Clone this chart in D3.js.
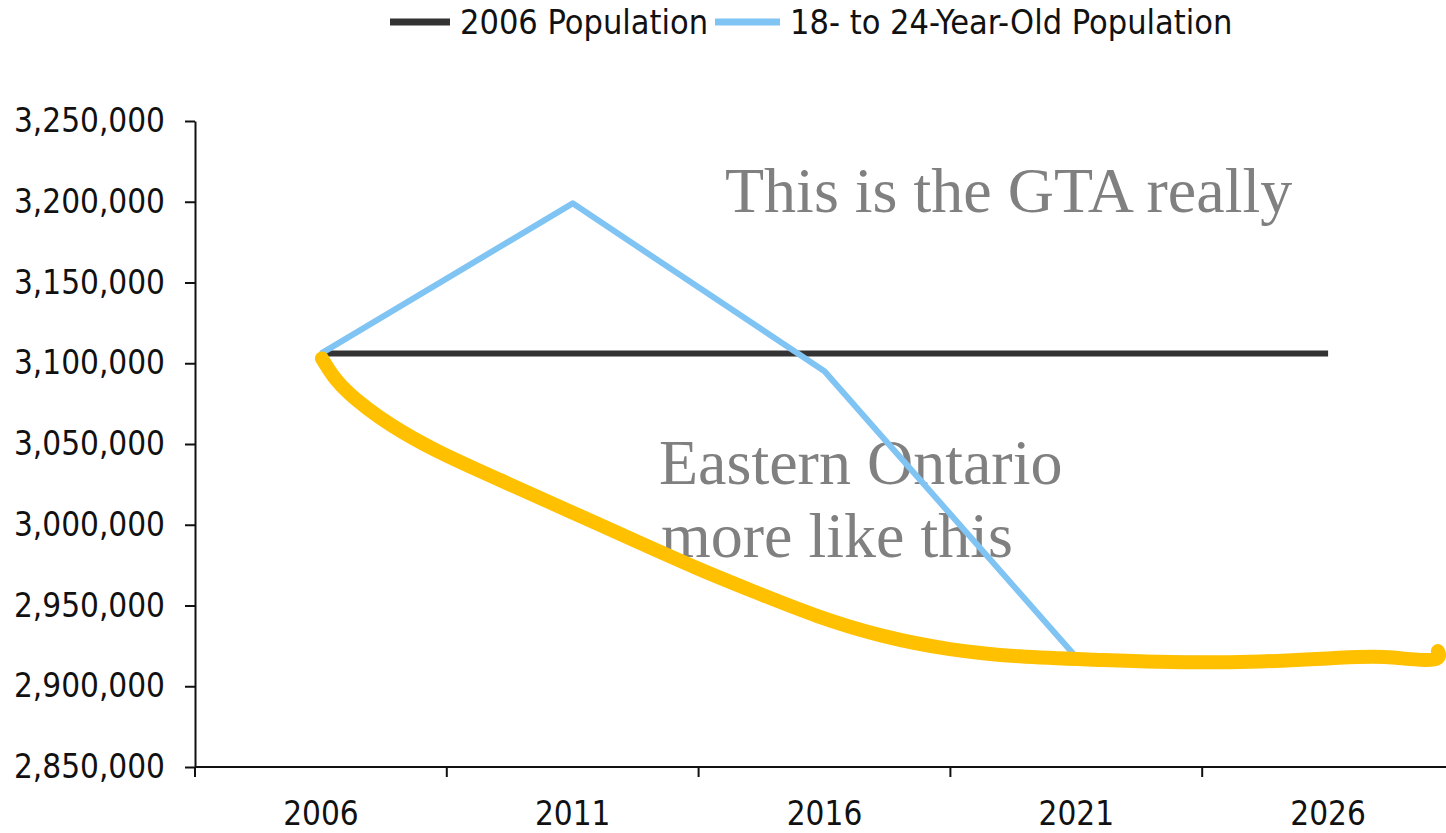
<!DOCTYPE html>
<html>
<head>
<meta charset="utf-8">
<script src="https://cdn.jsdelivr.net/npm/d3@7/dist/d3.min.js"></script>
<style>
  html, body { margin: 0; padding: 0; background: #fff; }
  svg { display: block; }
  .axis text { font-family: "DejaVu Sans Condensed", "DejaVu Sans", sans-serif; font-stretch: condensed; font-size: 33px; fill: #111; }
  .axis path, .axis line { stroke: #111; stroke-width: 2; }
  .legend text { font-family: "DejaVu Sans Condensed", "DejaVu Sans", sans-serif; font-stretch: condensed; font-size: 34px; fill: #111; }
  .note { font-family: "Liberation Serif", "Times New Roman", serif; font-size: 64px; fill: #808080; }
</style>
</head>
<body>
<svg id="chart" width="1446" height="833"></svg>
<script>
// Census years shown on the category axis
const years = ["2006", "2011", "2016", "2021", "2026"];

// Flat reference: the 2006 population
const basePopulation = [3106000, 3106000, 3106000, 3106000, 3106000];

// Projected 18- to 24-year-old population
const youthPopulation = [3106000, 3199000, 3095000, 2918000, 2916000];

// Hand-drawn Eastern Ontario trend: [year, population]
const easternYears = [2006.02, 2006.24, 2006.58, 2006.91, 2007.31, 2008.22, 2009.56, 2010.89, 2012.20,
                      2013.53, 2014.52, 2015.85, 2017.16, 2018.49, 2019.82, 2021.47, 2022.46,
                      2024.45, 2026.44, 2027.09, 2027.93, 2028.24, 2028.18];
const easternValues = [3103000, 3091500, 3080300, 3072300, 3063000, 3046300, 3027700, 3009100, 2990600,
                       2972000, 2959600, 2942900, 2930500, 2922400, 2918100, 2916300, 2915000,
                       2914400, 2918100, 2918700, 2915600, 2916900, 2921800];

// Value axis ticks
const yTicks = [2850000, 2900000, 2950000, 3000000, 3050000, 3100000, 3150000, 3200000, 3250000];

const legendItems = [
  { label: "2006 Population", color: "#333333" },
  { label: "18- to 24-Year-Old Population", color: "#80c4f4" }
];

const svg = d3.select("#chart");

const plotLeft = 195, plotRight = 1454, plotTop = 121, plotBottom = 767;

const x = d3.scaleBand().domain(years).range([plotLeft, plotRight]).padding(0);
const y = d3.scaleLinear().domain([2850000, 3250000]).range([plotBottom, plotTop]);

// Continuous year scale aligned with the band centres
const xc = d3.scaleLinear()
  .domain([2006, 2026])
  .range([x("2006") + x.bandwidth() / 2, x("2026") + x.bandwidth() / 2]);

// Y axis
svg.append("g")
  .attr("class", "axis")
  .attr("transform", `translate(${plotLeft},0)`)
  .call(d3.axisLeft(y).tickValues(yTicks).tickFormat(d3.format(",")).tickSize(10).tickPadding(20).tickSizeOuter(0));

// X axis: labels centred in bands, ticks on band boundaries
const xAxis = svg.append("g")
  .attr("class", "axis")
  .attr("transform", `translate(0,${plotBottom})`)
  .call(d3.axisBottom(x).tickSize(0).tickPadding(35).tickSizeOuter(0));
xAxis.select(".domain").attr("d", `M${plotLeft},0H${plotRight}`);
xAxis.selectAll(".boundary")
  .data(years)
  .enter().append("line")
  .attr("class", "boundary")
  .attr("x1", d => x(d)).attr("x2", d => x(d))
  .attr("y1", 0).attr("y2", 10);

// Annotations
svg.append("text").attr("class", "note").attr("x", 725).attr("y", 212).text("This is the GTA really");
svg.append("text").attr("class", "note").attr("x", 659).attr("y", 484).text("Eastern Ontario");
svg.append("text").attr("class", "note").attr("x", 661).attr("y", 557).text("more like this");

const lineCat = d3.line()
  .x((d, i) => x(years[i]) + x.bandwidth() / 2)
  .y(d => y(d));

// 2006 Population
svg.append("path")
  .datum(basePopulation)
  .attr("d", lineCat)
  .attr("fill", "none")
  .attr("stroke", "#333333")
  .attr("stroke-width", 6);

// 18- to 24-Year-Old Population
svg.append("path")
  .datum(youthPopulation)
  .attr("d", lineCat)
  .attr("fill", "none")
  .attr("stroke", "#80c4f4")
  .attr("stroke-width", 6)
  .attr("stroke-linejoin", "round");

// Eastern Ontario stroke
const eastern = easternYears.map((yr, i) => [yr, easternValues[i]]);
svg.append("path")
  .datum(eastern)
  .attr("d", d3.line().x(d => xc(d[0])).y(d => y(d[1])).curve(d3.curveBasis))
  .attr("fill", "none")
  .attr("stroke", "#ffc000")
  .attr("stroke-width", 14)
  .attr("stroke-linecap", "round")
  .attr("stroke-linejoin", "round");

// Legend
const legend = svg.append("g").attr("class", "legend");
const legendX = [390, 715];
const legendW = [60, 65];
legendItems.forEach((item, i) => {
  legend.append("line")
    .attr("x1", legendX[i]).attr("x2", legendX[i] + legendW[i])
    .attr("y1", 22).attr("y2", 22)
    .attr("stroke", item.color).attr("stroke-width", 7);
  legend.append("text")
    .attr("x", legendX[i] + legendW[i] + 10)
    .attr("y", 34)
    .text(item.label);
});
</script>
</body>
</html>
